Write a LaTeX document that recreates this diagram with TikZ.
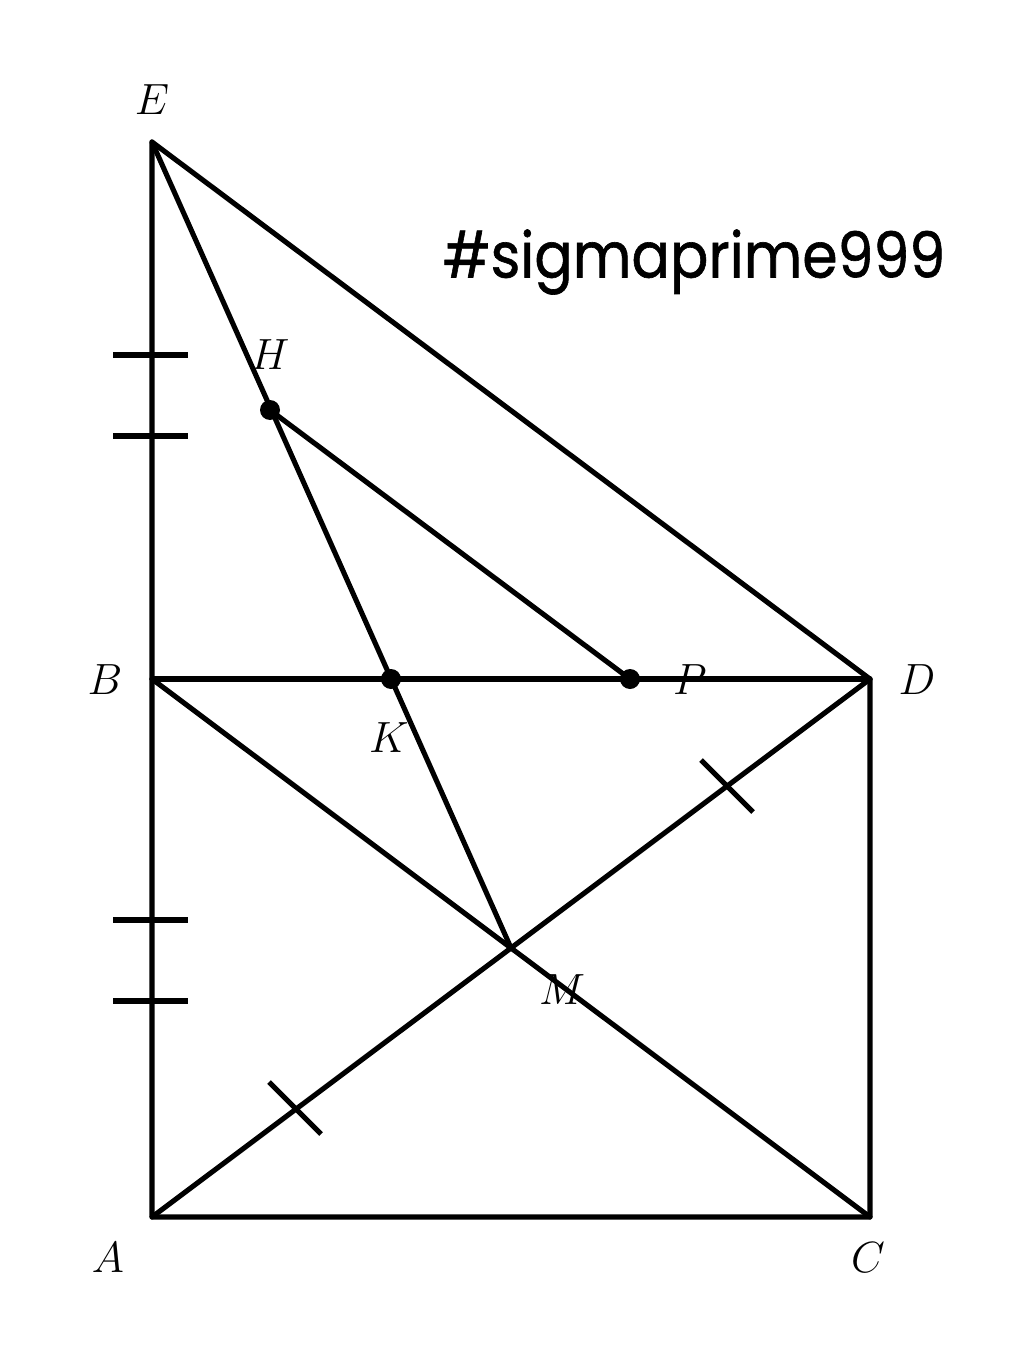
\documentclass[tikz,border=0pt]{standalone}
\usepackage{fontspec}
\usepackage{graphicx}
\newfontfamily\wmfont[FakeBold=1]{Poppins}
\begin{document}
\begin{tikzpicture}[x=0.02cm,y=-0.02cm,
  seg/.style={line width=2.9pt,line cap=round,line join=round},
  tick/.style={line width=2.9pt},
  lbl/.style={inner sep=0pt,font=\fontsize{29}{34}\selectfont},
  dot/.style={circle,fill=black,inner sep=0pt,minimum size=0.4cm}]
\useasboundingbox (0,0) rectangle (1024,1348);
\coordinate (E) at (152,142);
\coordinate (B) at (152,679);
\coordinate (A) at (152,1217);
\coordinate (C) at (870,1217);
\coordinate (D) at (870,679);
\coordinate (M) at (511,948);
\coordinate (H) at (270,410);
\coordinate (K) at (391,679);
\coordinate (P) at (630,679);
% lines
\draw[seg] (E) -- (A) -- (C) -- (D) -- (E);
\draw[seg] (B) -- (D);
\draw[seg] (B) -- (C);
\draw[seg] (A) -- (D);
\draw[seg] (E) -- (M);
\draw[seg] (H) -- (P);
% dots
\node[dot] (h) at (H) {};
\node[dot] (k) at (K) {};
\node[dot] (p) at (P) {};
% ticks
\foreach \y in {355,436,920,1001} \draw[tick] (113,\y) -- (188,\y);
\draw[tick] (701,760) -- (753,812);
\draw[tick] (269,1082) -- (321,1134);
% labels
\node[lbl] (lE) at (152,100) {$E$};
\node[lbl] (lH) at (270,355) {$H$};
\node[lbl] (lK) at (389,738) {$K$};
\node[lbl] (lP) at (690,680) {$P$};
\node[lbl] (lD) at (917,680) {$D$};
\node[lbl] (lB) at (105,680) {$B$};
\node[lbl] (lM) at (562,990) {$M$};
\node[lbl] (lA) at (108,1258) {$A$};
\node[lbl] (lC) at (868,1258) {$C$};
\node[inner sep=0pt,font=\wmfont\fontsize{36}{44}\selectfont] (wm) at (694,262) {\scalebox{0.9}[1]{\#sigmaprime999}};
\end{tikzpicture}
\end{document}
